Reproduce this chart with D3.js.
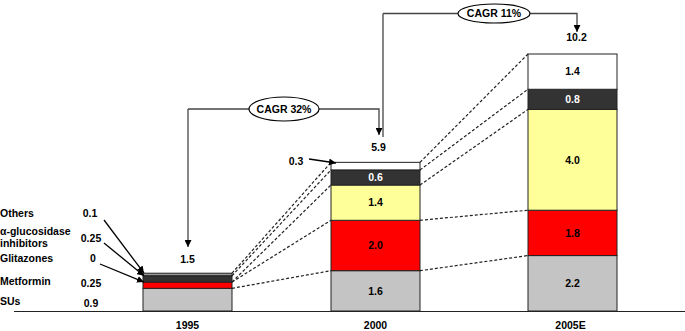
<!DOCTYPE html>
<html><head><meta charset="utf-8">
<script src="https://cdn.jsdelivr.net/npm/d3@7"></script>
<style>
body{margin:0;background:#fff;}
text{font-family:"Liberation Sans",Arial,Helvetica,sans-serif;font-weight:bold;font-size:10.5px;}
</style></head>
<body><svg id="c" width="685" height="331"></svg>
<script>
const years = ["1995", "2000", "2005E"];
const segments = ["SUs", "Metformin", "Glitazones", "α-glucosidase inhibitors", "Others"];
const sus = [0.9, 1.6, 2.2];
const metformin = [0.25, 2.0, 1.8];
const glitazones = [0, 1.4, 4.0];
const alphaGluc = [0.25, 0.6, 0.8];
const others = [0.1, 0.3, 1.4];
const totals = ["1.5", "5.9", "10.2"];
const cagrLabels = ["CAGR 32%", "CAGR 11%"];
const colors = ["#c4c4c4", "#ff0000", "#ffff99", "#333333", "#ffffff"];
const textColors = ["#000", "#000", "#000", "#fff", "#000"];

const series = [sus, metformin, glitazones, alphaGluc, others];
const svg = d3.select("#c");

const x = d3.scaleOrdinal().domain(years).range([143, 331, 528]);
const bw = 89;
const y = d3.scaleLinear().domain([0, 10.2]).range([311, 54]);

const rows = years.map((yr, i) => {
  const r = {year: yr};
  segments.forEach((s, k) => r[s] = series[k][i]);
  return r;
});
const stack = d3.stack().keys(segments)(rows);

// dashed connectors
for (let i = 0; i < years.length - 1; i++) {
  stack.forEach(layer => {
    svg.append("line")
      .attr("x1", x(years[i]) + bw).attr("y1", y(layer[i][1]))
      .attr("x2", x(years[i + 1])).attr("y2", y(layer[i + 1][1]))
      .attr("stroke", "#222").attr("stroke-width", 1.2)
      .attr("stroke-dasharray", "3,2");
  });
}

// bars
stack.forEach((layer, k) => {
  svg.selectAll(null).data(layer).enter().append("rect")
    .attr("x", (d, i) => x(years[i]))
    .attr("y", d => y(d[1]))
    .attr("width", bw)
    .attr("height", d => y(d[0]) - y(d[1]))
    .attr("fill", (d, i) => (i === 0 && k === 4) ? "#999" : colors[k])
    .attr("stroke", "#222").attr("stroke-width", 1);
  svg.selectAll(null).data(layer).enter().filter((d, i) => i > 0)
    .append("text")
    .attr("x", (d, i) => x(years[i + 1]) + bw / 2)
    .attr("y", d => (y(d[0]) + y(d[1])) / 2 + 3.7)
    .attr("text-anchor", "middle")
    .attr("fill", textColors[k])
    .text((d, i) => series[k][i + 1] === 0.3 ? "" : series[k][i + 1].toFixed(1));
});

// axis baseline
svg.append("line").attr("x1", 14).attr("x2", 685).attr("y1", 311.5).attr("y2", 311.5)
  .attr("stroke", "#222").attr("stroke-width", 1.2);

// year labels
svg.selectAll(null).data(years).enter().append("text")
  .attr("x", (d, i) => x(d) + bw / 2 - (i === 2 ? 2 : 0)).attr("y", 329)
  .attr("text-anchor", "middle").text(d => d);

// totals
const totalY = [263, 151, 41];
svg.selectAll(null).data(totals).enter().append("text")
  .attr("x", (d, i) => x(years[i]) + bw / 2 + (i === 1 ? 3 : 0) + (i === 2 ? 4 : 0))
  .attr("y", (d, i) => totalY[i])
  .attr("text-anchor", "middle").text(d => d);

// markers
const defs = svg.append("defs");
defs.append("marker").attr("id", "ah").attr("viewBox", "0 0 10 10")
  .attr("refX", 10).attr("refY", 5).attr("markerWidth", 7).attr("markerHeight", 7)
  .attr("markerUnits", "userSpaceOnUse").attr("orient", "auto")
  .append("path").attr("d", "M0,0L10,5L0,10z").attr("fill", "#000");

// left labels
const leftNames = [["Others", 217], ["α-glucosidase", 235], ["inhibitors", 247], ["Glitazones", 262], ["Metformin", 285], ["SUs", 305]];
svg.selectAll(null).data(leftNames).enter().append("text")
  .attr("x", 0).attr("y", d => d[1]).text(d => d[0]);
const leftVals = [[others[0], 90, 217], [alphaGluc[0], 91, 242], [glitazones[0], 93, 262], [metformin[0], 91, 287], [sus[0], 91, 307]];
svg.selectAll(null).data(leftVals).enter().append("text")
  .attr("x", d => d[1]).attr("y", d => d[2]).attr("text-anchor", "middle")
  .text(d => String(d[0]));

// arrows from left labels to 1995 bar
const lp = [[104, 220, y(1.5)], [104, 243, y(1.4)], [100, 264, y(1.15)]];
lp.forEach(p => {
  svg.append("line").attr("x1", p[0]).attr("y1", p[1]).attr("x2", x(years[0]) + 1).attr("y2", p[2])
    .attr("stroke", "#000").attr("stroke-width", 1.3).attr("marker-end", "url(#ah)");
});

// 0.3 label with arrow
svg.append("text").attr("x", 296).attr("y", 165).attr("text-anchor", "middle").text(String(others[1]));
svg.append("line").attr("x1", 309).attr("y1", 159).attr("x2", 336).attr("y2", 163)
  .attr("stroke", "#000").attr("stroke-width", 1.3).attr("marker-end", "url(#ah)");

// CAGR brackets
function cagr(xl, xr, yr, hy, cx, rx, ry, label) {
  svg.append("path")
    .attr("d", `M${xl},${hy}L${cx - rx},${hy}`)
    .attr("fill", "none").attr("stroke", "#444").attr("stroke-width", 1.3);
  svg.append("path")
    .attr("d", `M${cx + rx},${hy}L${xr},${hy}L${xr},${yr}`)
    .attr("fill", "none").attr("stroke", "#444").attr("stroke-width", 1.3)
    .attr("marker-end", "url(#ah)");
  svg.append("ellipse").attr("cx", cx).attr("cy", hy).attr("rx", rx).attr("ry", ry)
    .attr("fill", "#fff").attr("stroke", "#000").attr("stroke-width", 1.2);
  svg.append("text").attr("x", cx).attr("y", hy + 3.7).attr("text-anchor", "middle").text(label);
}
svg.append("line").attr("x1", 188).attr("y1", 109).attr("x2", 188).attr("y2", 247)
  .attr("stroke", "#444").attr("stroke-width", 1.3).attr("marker-end", "url(#ah)");
cagr(188, 379, 135, 109, 284, 35, 12, cagrLabels[0]);
svg.append("line").attr("x1", 383).attr("y1", 13.5).attr("x2", 383).attr("y2", 137)
  .attr("stroke", "#444").attr("stroke-width", 1.3);
cagr(383, 577, 32, 13.5, 494, 36, 9.5, cagrLabels[1]);
</script></body></html>
